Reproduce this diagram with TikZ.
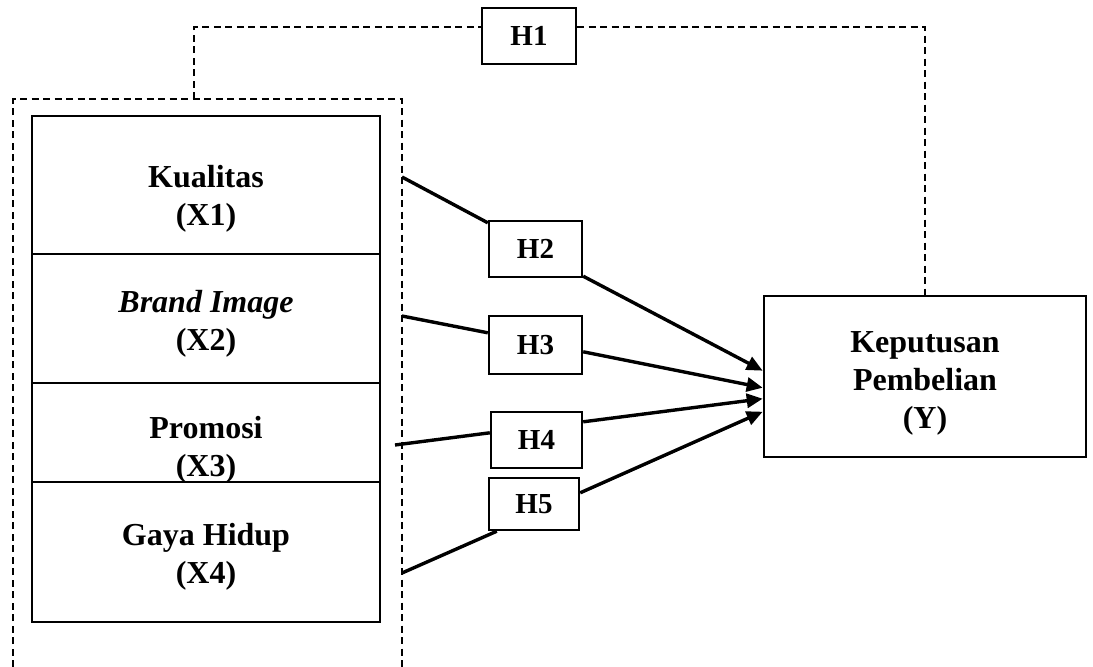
\documentclass[tikz,border=0pt]{standalone}
\usepackage{fontspec}
\setmainfont{Liberation Serif}
\usetikzlibrary{calc,arrows.meta}
\begin{document}
\begin{tikzpicture}[x=1pt,y=-1pt,
  stackbox/.style={draw,line width=2.6pt,minimum width=348pt,inner sep=0pt},
  hbox/.style={draw,line width=2.4pt,inner sep=0pt,font=\fontsize{29}{34}\selectfont\bfseries},
  lbl/.style={align=center,inner sep=0pt,font=\fontsize{32}{38}\selectfont\bfseries},
  dashline/.style={line width=1.5pt,dash pattern=on 7pt off 4.5pt},
  conn/.style={line width=3.4pt},
  arr/.style={line width=3.4pt,-{Triangle[length=16pt,width=14pt]}}]
\useasboundingbox (0,0) rectangle (1093,667);
% outer dashed group
\draw[dashline] (13,667) -- (13,99) -- (402,99) -- (402,667);
% stacked variable boxes
\node[stackbox,minimum height=138pt] (K) at (206,185) {};
\node[stackbox,minimum height=129pt] (B) at (206,318.5) {};
\node[stackbox,minimum height=99pt] (P) at (206,432.5) {};
\node[stackbox,minimum height=140pt] (G) at (206,552) {};
\node[lbl] (Kt) at (206,199) {Kualitas\\(X1)};
\node[lbl] (Bt) at (206,324) {\textit{Brand Image}\\(X2)};
\node[lbl] (Pt) at (206,450) {Promosi\\(X3)};
\node[lbl] (Gt) at (206,557) {Gaya Hidup\\(X4)};
% dependent
\node[draw,line width=2.6pt,minimum width=322pt,minimum height=161pt] (Y) at (925,376.5) {};
\node[lbl] (Yt) at (925,383) {Keputusan\\Pembelian\\(Y)};
% hypothesis boxes
\node[hbox,minimum width=94pt,minimum height=56pt] (H1) at (529,36) {H1};
\node[hbox,minimum width=93pt,minimum height=56pt] (H2) at (535.5,249) {H2};
\node[hbox,minimum width=93pt,minimum height=58pt] (H3) at (535.5,345) {H3};
\node[hbox,minimum width=91pt,minimum height=56pt] (H4) at (536.5,440) {H4};
\node[hbox,minimum width=90pt,minimum height=52pt] (H5) at (534,504) {H5};
% free ends on group edge
\coordinate (o1) at (402,177);
\coordinate (o2) at (402,316);
\coordinate (o3) at (395,445);
\coordinate (o4) at (402,573);
\coordinate (d1) at (194,99);
% H1 dashed connector
\draw[dashline] (d1) |- ($(H1.north west)+(0,20)$);
\draw[dashline] ($(H1.north east)+(0,20)$) -| (Y.north);
% H2..H5 connectors
\draw[conn] (o1) -- ($(H2.north west)+(0,3)$);
\draw[arr] ($(H2.south east)+(0,-2)$) -- ($(Y.north west)+(0,76)$);
\draw[conn] (o2) -- ($(H3.north west)+(0,18)$);
\draw[arr] ($(H3.north east)+(0,37)$) -- ($(Y.north west)+(0,93)$);
\draw[conn] (o3) -- ($(H4.north west)+(0,22)$);
\draw[arr] ($(H4.north east)+(0,11)$) -- ($(Y.north west)+(0,104)$);
\draw[conn] (o4) -- ($(H5.south west)+(9,0)$);
\draw[arr] ($(H5.north east)+(0,16)$) -- ($(Y.north west)+(0,117)$);
\end{tikzpicture}
\end{document}
